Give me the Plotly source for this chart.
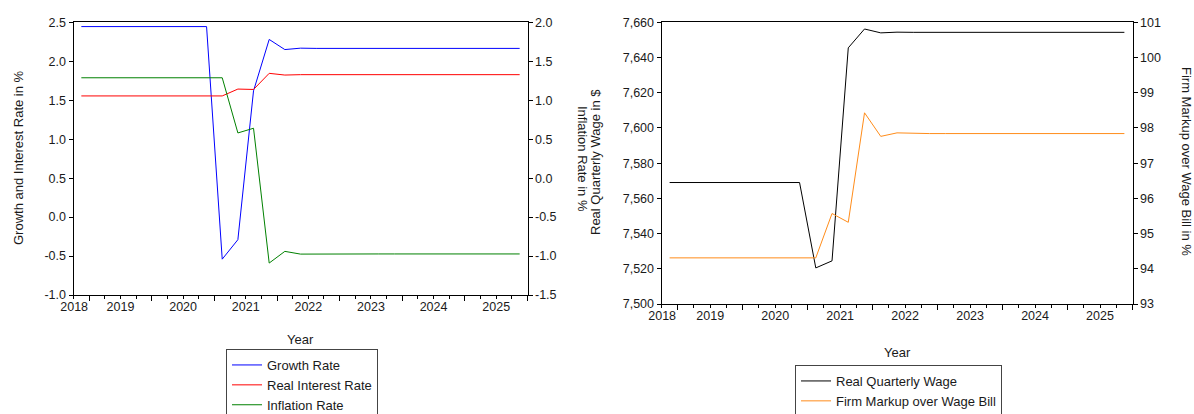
import plotly.graph_objects as go

# ---------------- data ----------------
quarters = ["2018Q4",
            "2019Q1", "2019Q2", "2019Q3", "2019Q4",
            "2020Q1", "2020Q2", "2020Q3", "2020Q4",
            "2021Q1", "2021Q2", "2021Q3", "2021Q4",
            "2022Q1", "2022Q2", "2022Q3", "2022Q4",
            "2023Q1", "2023Q2", "2023Q3", "2023Q4",
            "2024Q1", "2024Q2", "2024Q3", "2024Q4",
            "2025Q1", "2025Q2", "2025Q3", "2025Q4"]

growth_rate = [2.445, 2.445, 2.445, 2.445, 2.445, 2.445, 2.445, 2.445, 2.445,
               -0.54, -0.29, 1.62, 2.28, 2.15, 2.168,
               2.165, 2.165, 2.165, 2.165, 2.165, 2.165, 2.165,
               2.165, 2.165, 2.165, 2.165, 2.165, 2.165, 2.165]
real_interest_rate = [1.555, 1.555, 1.555, 1.555, 1.555, 1.555, 1.555, 1.555, 1.555, 1.555,
                      1.643, 1.638, 1.845, 1.823, 1.828,
                      1.828, 1.828, 1.828, 1.828, 1.828, 1.828, 1.828,
                      1.828, 1.828, 1.828, 1.828, 1.828, 1.828, 1.828]
inflation_rate = [1.288, 1.288, 1.288, 1.288, 1.288, 1.288, 1.288, 1.288, 1.288, 1.288,
                  0.58, 0.64, -1.09, -0.94, -0.975,
                  -0.973, -0.973, -0.973, -0.973, -0.973, -0.973, -0.973,
                  -0.973, -0.973, -0.973, -0.973, -0.973, -0.973, -0.973]

real_quarterly_wage = [7569.0, 7569.0, 7569.0, 7569.0, 7569.0, 7569.0, 7569.0, 7569.0, 7569.0,
                       7520.5, 7524.5, 7645.5, 7656.2, 7654.0, 7654.4,
                       7654.3, 7654.3, 7654.3, 7654.3, 7654.3, 7654.3, 7654.3,
                       7654.3, 7654.3, 7654.3, 7654.3, 7654.3, 7654.3, 7654.3]
firm_markup = [94.31, 94.31, 94.31, 94.31, 94.31, 94.31, 94.31, 94.31, 94.31, 94.31,
               95.57, 95.32, 98.43, 97.76, 97.86,
               97.84, 97.84, 97.84, 97.84, 97.84, 97.84, 97.84,
               97.84, 97.84, 97.84, 97.84, 97.84, 97.84, 97.84]

year_labels = ["2018", "2019", "2020", "2021", "2022", "2023", "2024", "2025"]
left_ticks = [-1.0, -0.5, 0.0, 0.5, 1.0, 1.5, 2.0, 2.5]
infl_ticks = [-1.5, -1.0, -0.5, 0.0, 0.5, 1.0, 1.5, 2.0]
wage_ticks = [7500, 7520, 7540, 7560, 7580, 7600, 7620, 7640, 7660]
markup_ticks = [93, 94, 95, 96, 97, 98, 99, 100, 101]

# ---------------- helpers ----------------
def qpos(q):
    y, n = q.split("Q")
    return int(y) + (int(n) - 1) / 4 + 0.125  # middle of quarter

xq = [qpos(q) for q in quarters]
x_start = qpos(quarters[0]) - 0.125
x_end = qpos(quarters[-1]) + 0.125
label_pos = [x_start + 0.01] + [int(l) + 0.5 for l in year_labels[1:]]

W, H = 1194, 414
FONT = "Liberation Sans, Arial, sans-serif"
TXT = "#1a1a1a"

def px(x):
    return x / W

def py(y):
    return 1 - y / H

fig = go.Figure()

# left chart
fig.add_trace(go.Scatter(x=xq, y=growth_rate, mode="lines", name="Growth Rate",
                         line=dict(color="#0000ff", width=1), xaxis="x", yaxis="y", legend="legend"))
fig.add_trace(go.Scatter(x=xq, y=real_interest_rate, mode="lines", name="Real Interest Rate",
                         line=dict(color="#ff0000", width=1), xaxis="x", yaxis="y", legend="legend"))
fig.add_trace(go.Scatter(x=xq, y=inflation_rate, mode="lines", name="Inflation Rate",
                         line=dict(color="#008000", width=1), xaxis="x", yaxis="y2", legend="legend"))
fig.add_trace(go.Scatter(x=[None], y=[None], xaxis="x5", yaxis="y", showlegend=False, hoverinfo="skip"))

# right chart
fig.add_trace(go.Scatter(x=xq, y=real_quarterly_wage, mode="lines", name="Real Quarterly Wage",
                         line=dict(color="#000000", width=1), xaxis="x3", yaxis="y3", legend="legend2"))
fig.add_trace(go.Scatter(x=xq, y=firm_markup, mode="lines", name="Firm Markup over Wage Bill",
                         line=dict(color="#ff8c1a", width=1), xaxis="x3", yaxis="y4", legend="legend2"))
fig.add_trace(go.Scatter(x=[None], y=[None], xaxis="x6", yaxis="y3", showlegend=False, hoverinfo="skip"))

L_dom = [px(73.5), px(527.5)]
L_ydom = [py(295), py(22.3)]
R_dom = [px(661.5), px(1132.5)]
R_ydom = [py(304), py(22.3)]

tickfont = dict(family=FONT, size=12.5, color=TXT)

def label_axis(domain, anchor):
    return dict(domain=domain, anchor=anchor, range=[x_start, x_end], tickmode="array",
                tickvals=label_pos, ticktext=year_labels, ticks="", showgrid=False, zeroline=False,
                showline=True, linecolor="black", linewidth=1, mirror=True, tickfont=tickfont,
                fixedrange=True, automargin=False)

def tick_axis(over, anchor):
    return dict(overlaying=over, anchor=anchor, side="bottom", range=[x_start, x_end],
                tickmode="linear", tick0=2019, dtick=1, ticks="outside", ticklen=5, tickwidth=1,
                tickcolor="black", showticklabels=False, showgrid=False, zeroline=False, showline=False,
                automargin=False,
                minor=dict(ticks="outside", ticklen=3, tickwidth=1, tickcolor="black",
                           tickmode="linear", tick0=x_start, dtick=0.25, showgrid=False))

def yax(domain, anchor, rng, vals, texts, side="left", over=None):
    d = dict(domain=domain, anchor=anchor, range=rng, tickmode="array", tickvals=vals, ticktext=texts,
             ticks="outside", ticklen=4, tickwidth=1, tickcolor="black", showline=True, linecolor="black",
             linewidth=1, showgrid=False, zeroline=False, tickfont=tickfont, side=side, fixedrange=True,
             automargin=False)
    if over:
        d["overlaying"] = over
        d.pop("domain")
    return d

fig.update_layout(
    template="none",
    width=W, height=H,
    margin=dict(l=0, r=0, t=0, b=0, autoexpand=False),
    paper_bgcolor="white", plot_bgcolor="white",
    font=dict(family=FONT, size=13, color=TXT),
    xaxis=label_axis(L_dom, "y"),
    xaxis5=tick_axis("x", "y"),
    yaxis=yax(L_ydom, "x", [left_ticks[0], left_ticks[-1]], left_ticks, [f"{v:.1f}" for v in left_ticks]),
    yaxis2=yax(None, "x", [infl_ticks[0], infl_ticks[-1]], infl_ticks, [f"{v:.1f}" for v in infl_ticks],
               side="right", over="y"),
    xaxis3=label_axis(R_dom, "y3"),
    xaxis6=tick_axis("x3", "y3"),
    yaxis3=yax(R_ydom, "x3", [wage_ticks[0], wage_ticks[-1]], wage_ticks, [f"{v:,}" for v in wage_ticks]),
    yaxis4=yax(None, "x3", [markup_ticks[0], markup_ticks[-1]], markup_ticks, [str(v) for v in markup_ticks],
               side="right", over="y3"),
    legend=dict(x=px(226), y=py(349), xanchor="left", yanchor="top", bgcolor="white",
                bordercolor="#444", borderwidth=1, font=dict(family=FONT, size=13, color=TXT),
                tracegroupgap=0),
    legend2=dict(x=px(795), y=py(365), xanchor="left", yanchor="top", bgcolor="white",
                 bordercolor="#444", borderwidth=1, font=dict(family=FONT, size=13, color=TXT),
                 tracegroupgap=0),
    showlegend=True,
)

def title(text, x, y, angle):
    fig.add_annotation(text=text, xref="paper", yref="paper", x=px(x), y=py(y), xanchor="center",
                       yanchor="middle", textangle=angle, showarrow=False,
                       font=dict(family=FONT, size=13, color=TXT))

title("Growth and Interest Rate in %", 19, 158, -90)
title("Inflation Rate in %", 582, 159, 90)
title("Real Quarterly Wage in $", 596, 162, -90)
title("Firm Markup over Wage Bill in %", 1186, 161, 90)
title("Year", 300, 339, 0)
title("Year", 897, 352, 0)

fig.write_html("out.html")
